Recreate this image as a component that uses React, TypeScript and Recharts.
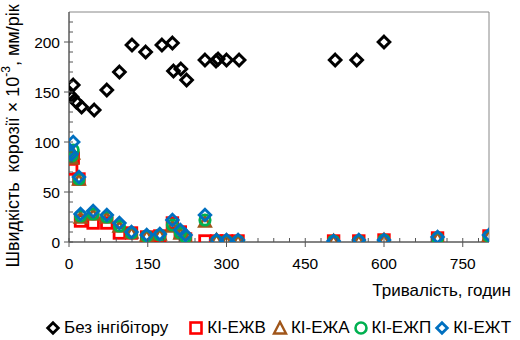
import React from "react";
import { ScatterChart, Scatter, XAxis, YAxis, ReferenceArea } from "recharts";

// Без інгібітору
const hoursBase = [0, 6, 8, 14, 24, 48, 72, 96, 120, 146, 177, 197, 199, 213, 224, 259, 280, 284, 300, 324, 507, 548, 600];
const rateBase = [148, 145, 157, 140, 135, 132, 152, 170, 197, 190, 197, 199, 171, 173, 162, 182, 181, 183, 182, 182, 182, 182, 200];

// inhibitor series share sampling times
const hoursInh = [0, 5, 8, 19, 22, 46, 72, 96, 119, 148, 173, 197, 212, 222, 259, 281, 300, 322, 504, 552, 600, 702, 800];
const rateEZhV = [83, 73, 84, 63, 21, 19, 19, 9, 9, 5, 6, 19, 10, 3, 1, 1, 1, 1, 1, 1, 2, 4, 6];
const rateEZhA = [85, 83, 88, 62, 24, 27, 24, 15, 9, 6, 7, 15, 8, 4, 20, 2, 1, 1, 1, 1, 2, 4, 6];
const rateEZhP = [88, 86, 92, 63, 26, 28, 25, 16, 9, 6, 7, 17, 9, 5, 22, 1, 1, 1, 1, 1, 2, 4, 6];
const rateEZhT = [90, 88, 100, 65, 28, 31, 27, 19, 10, 7, 8, 22, 12, 7, 27, 2, 2, 2, 1, 2, 2, 5, 7];

const xTicks = [0, 30, 60, 90, 120, 150, 180, 210, 240, 270, 300, 330, 360, 390, 420, 450, 480, 510, 540, 570, 600, 630, 660, 690, 720, 750, 780];
const xLabelTicks = [0, 150, 300, 450, 600, 750];
const yTicks = [0, 10, 20, 30, 40, 50, 60, 70, 80, 90, 100, 110, 120, 130, 140, 150, 160, 170, 180, 190, 200, 210, 220];
const yLabelTicks = [0, 50, 100, 150, 200];

const seriesNames = ["Без інгібітору", "КІ-ЕЖВ", "КІ-ЕЖА", "КІ-ЕЖП", "КІ-ЕЖТ"];

const toPoints = (xs: number[], ys: number[]) => xs.map((x, i) => ({ x, y: ys[i] }));

const dataBase = toPoints(hoursBase, rateBase);
const dataV = toPoints(hoursInh, rateEZhV);
const dataA = toPoints(hoursInh, rateEZhA);
const dataP = toPoints(hoursInh, rateEZhP);
const dataT = toPoints(hoursInh, rateEZhT);

const FONT = "'Liberation Sans', Arial, sans-serif";

const Diamond = (color: string, r: number, sw: number) => (props: any) => {
  const { cx, cy } = props;
  if (cx == null || cy == null) return <g />;
  return (
    <path
      d={`M${cx},${cy - r}L${cx + r},${cy}L${cx},${cy + r}L${cx - r},${cy}Z`}
      fill="none"
      stroke={color}
      strokeWidth={sw}
    />
  );
};

const Square = (color: string, h: number, sw: number) => (props: any) => {
  const { cx, cy } = props;
  if (cx == null || cy == null) return <g />;
  return <rect x={cx - h} y={cy - h} width={2 * h} height={2 * h} fill="none" stroke={color} strokeWidth={sw} />;
};

const Triangle = (color: string, r: number, sw: number) => (props: any) => {
  const { cx, cy } = props;
  if (cx == null || cy == null) return <g />;
  return (
    <path
      d={`M${cx},${cy - r}L${cx + r},${cy + r * 0.8}L${cx - r},${cy + r * 0.8}Z`}
      fill="none"
      stroke={color}
      strokeWidth={sw}
    />
  );
};

const Circle = (color: string, r: number, sw: number) => (props: any) => {
  const { cx, cy } = props;
  if (cx == null || cy == null) return <g />;
  return <circle cx={cx} cy={cy} r={r} fill="none" stroke={color} strokeWidth={sw} />;
};

const BLACK = "#000000";
const RED = "#ff0000";
const BROWN = "#a0561a";
const GREEN = "#00b050";
const BLUE = "#0070c0";

const XTick = (props: any) => {
  const { x, y, payload } = props;
  const major = xLabelTicks.includes(payload.value);
  return (
    <g>
      <line x1={x} x2={x} y1={y - 4} y2={major ? y + 5 : y} stroke="#555" strokeWidth={1} />
      {major && (
        <text x={x} y={y + 21.5} textAnchor="middle" dominantBaseline="central" fontSize={15.5} fontFamily={FONT} fill="#000">
          {payload.value}
        </text>
      )}
    </g>
  );
};

const YTick = (props: any) => {
  const { x, y, payload } = props;
  const major = yLabelTicks.includes(payload.value);
  return (
    <g>
      <line x1={major ? x - 5 : x} x2={x + 4} y1={y} y2={y} stroke="#555" strokeWidth={1} />
      {major && (
        <text x={x - 9} y={y} textAnchor="end" dominantBaseline="central" fontSize={15.5} fontFamily={FONT} fill="#000">
          {payload.value}
        </text>
      )}
    </g>
  );
};

const LegendIcon = ({ kind, color }: { kind: string; color: string }) => {
  const c = 8;
  let el: any = null;
  if (kind === "diamond") el = <path d={`M${c},${c - 5.3}L${c + 5.3},${c}L${c},${c + 5.3}L${c - 5.3},${c}Z`} fill="none" stroke={color} strokeWidth={2.8} />;
  if (kind === "square") el = <rect x={c - 5.5} y={c - 5.5} width={11} height={11} fill="none" stroke={color} strokeWidth={2.6} />;
  if (kind === "triangle") el = <path d={`M${c},${c - 6}L${c + 6},${c + 5.5}L${c - 6},${c + 5.5}Z`} fill="none" stroke={color} strokeWidth={2.4} />;
  if (kind === "circle") el = <circle cx={c} cy={c} r={5.5} fill="none" stroke={color} strokeWidth={2.6} />;
  return (
    <svg width={16} height={16} style={{ display: "block", marginRight: 3 }}>
      {el}
    </svg>
  );
};

const legendItems = [
  { kind: "diamond", color: BLACK, gap: 20 },
  { kind: "square", color: RED, gap: 6 },
  { kind: "triangle", color: BROWN, gap: 3 },
  { kind: "circle", color: GREEN, gap: 3 },
  { kind: "diamond", color: BLUE, gap: 0 },
];

export default function App() {
  return (
    <div style={{ position: "absolute", left: 0, top: 0, width: 520, height: 340, background: "#fff" }}>
      <ScatterChart width={520} height={340} margin={{ top: 12, right: 31, bottom: 68, left: 0 }}>
        <XAxis
          type="number"
          dataKey="x"
          domain={[0, 800]}
          ticks={xTicks}
          interval={0}
          tick={<XTick />}
          tickLine={false}
          tickSize={0}
          tickMargin={0}
          axisLine={{ stroke: "#444", strokeWidth: 1 }}
          height={30}
          allowDataOverflow
        />
        <YAxis
          type="number"
          dataKey="y"
          domain={[0, 230]}
          ticks={yTicks}
          interval={0}
          tick={<YTick />}
          tickLine={false}
          tickSize={0}
          tickMargin={0}
          axisLine={{ stroke: "#444", strokeWidth: 1 }}
          width={69}
          allowDataOverflow
        />
        <ReferenceArea x1={0} x2={800} y1={0} y2={230} fill="none" stroke="#888" strokeWidth={1} ifOverflow="visible" />
        <Scatter name={seriesNames[0]} data={dataBase} shape={Diamond(BLACK, 5.8, 3)} isAnimationActive={false} />
        <Scatter name={seriesNames[1]} data={dataV} shape={Square(RED, 5.3, 2.8)} isAnimationActive={false} />
        <Scatter name={seriesNames[2]} data={dataA} shape={Triangle(BROWN, 5.5, 2.8)} isAnimationActive={false} />
        <Scatter name={seriesNames[3]} data={dataP} shape={Circle(GREEN, 5.2, 2.8)} isAnimationActive={false} />
        <Scatter name={seriesNames[4]} data={dataT} shape={Diamond(BLUE, 5.8, 2.8)} isAnimationActive={false} />
        <text
          transform="translate(13,136) rotate(-90)"
          textAnchor="middle"
          dominantBaseline="central"
          fontSize={18}
          fontFamily={FONT}
          fill="#000"
          style={{ whiteSpace: "pre" }}
        >
          <tspan>{"Швидкість  корозії × 10"}</tspan>
          <tspan dy={-7} fontSize={12}>{"-3"}</tspan>
          <tspan dy={7}>{", мм/рік"}</tspan>
        </text>
        <text x={511} y={290} textAnchor="end" dominantBaseline="central" fontSize={17} fontFamily={FONT} fill="#000">
          Тривалість, годин
        </text>
      </ScatterChart>
      <div
        style={{
          position: "absolute",
          left: 45,
          top: 318,
          display: "flex",
          alignItems: "center",
          fontFamily: FONT,
          fontSize: 17,
          whiteSpace: "nowrap",
          color: "#000",
          lineHeight: "20px",
          height: 20,
        }}
      >
        {legendItems.map((it, i) => (
          <div key={i} style={{ display: "flex", alignItems: "center", marginRight: it.gap }}>
            <LegendIcon kind={it.kind} color={it.color} />
            <span>{seriesNames[i]}</span>
          </div>
        ))}
      </div>
    </div>
  );
}
